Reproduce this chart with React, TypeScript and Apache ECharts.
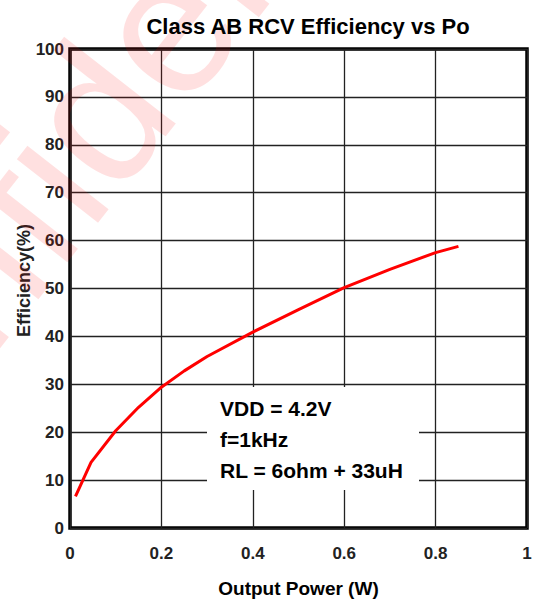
import React, { useEffect, useRef } from "react";
import * as echarts from "echarts";

const titleText = "Class AB RCV Efficiency vs Po";
const xAxisName = "Output Power (W)";
const yAxisName = "Efficiency(%)";
const watermarkText = "Confidential";

const outputPower = [0.012, 0.046, 0.1, 0.15, 0.2, 0.25, 0.3, 0.4, 0.5, 0.6, 0.7, 0.8, 0.85];
const efficiency = [6.6, 13.7, 20.3, 25.2, 29.4, 32.8, 35.8, 40.9, 45.6, 50.2, 54.0, 57.5, 58.8];

const xTickLabels = ["0", "0.2", "0.4", "0.6", "0.8", "1"];
const noteLines = ["VDD = 4.2V", "f=1kHz", "RL = 6ohm + 33uH"];

const FONT = "'Liberation Sans', Arial, Helvetica, sans-serif";

export default function App() {
  const ref = useRef<HTMLDivElement>(null);

  useEffect(() => {
    if (!ref.current) return;
    const chart = echarts.init(ref.current, undefined, { renderer: "svg" });
    const data = outputPower.map((x, i) => [x, efficiency[i]]);

    chart.setOption({
      animation: false,
      backgroundColor: "#ffffff",
      title: {
        text: titleText,
        left: 303,
        top: 10,
        textAlign: "center",
        textStyle: { fontFamily: FONT, fontWeight: "bold", fontSize: 22, color: "#000" },
      },
      grid: {
        left: 70,
        top: 49,
        right: 10,
        bottom: 73,
        show: true,
        borderColor: "#000",
        borderWidth: 3.5,
        backgroundColor: "transparent",
      },
      xAxis: {
        type: "value",
        min: 0,
        max: 1,
        interval: 0.2,
        name: xAxisName,
        nameLocation: "middle",
        nameGap: 51,
        nameTextStyle: { fontFamily: FONT, fontWeight: "bold", fontSize: 19, color: "#000" },
        axisLine: { show: false },
        axisTick: { show: false },
        splitLine: { show: true, lineStyle: { color: "#222", width: 1.3 } },
        axisLabel: {
          margin: 17,
          fontFamily: FONT,
          fontWeight: "bold",
          fontSize: 17,
          color: "#222",
          formatter: (v: number) => xTickLabels[Math.round(v / 0.2)] ?? String(v),
        },
      },
      yAxis: {
        type: "value",
        min: 0,
        max: 100,
        interval: 10,
        name: yAxisName,
        nameLocation: "middle",
        nameGap: 37,
        nameRotate: 90,
        nameMoveOverlap: false,
        nameTextStyle: {
          fontFamily: FONT,
          fontWeight: "bold",
          fontSize: 18,
          color: "#222",
          padding: [0, 0, 0, 16],
        },
        axisLine: { show: false },
        axisTick: { show: false },
        splitLine: { show: true, lineStyle: { color: "#222", width: 1.3 } },
        axisLabel: {
          margin: 6,
          fontFamily: FONT,
          fontWeight: "bold",
          fontSize: 17,
          color: "#222",
        },
      },
      graphic: [
        {
          type: "text",
          x: 100,
          y: 110,
          rotation: (52 * Math.PI) / 180,
          z: 1,
          silent: true,
          style: {
            text: watermarkText,
            fontFamily: FONT,
            fontSize: 195,
            fill: "rgba(255,0,0,0.12)",
            align: "center",
            verticalAlign: "middle",
          },
        },
        {
          type: "rect",
          z: 10,
          shape: { x: 207, y: 387, width: 212, height: 103 },
          style: { fill: "#fff" },
        },
        ...noteLines.map((t, i) => ({
          type: "text",
          z: 11,
          x: 220,
          y: 408 + i * 31,
          style: {
            text: t,
            fontFamily: FONT,
            fontWeight: "bold",
            fontSize: 21,
            fill: "#000",
            align: "left",
            verticalAlign: "middle",
          },
        })),
      ],
      series: [
        {
          type: "line",
          data,
          showSymbol: false,
          smooth: false,
          z: 5,
          lineStyle: { color: "#ff0000", width: 3 },
          itemStyle: { color: "#ff0000" },
        },
      ],
    });

    return () => chart.dispose();
  }, []);

  return (
    <div
      ref={ref}
      style={{ position: "fixed", left: 0, top: 0, width: 537, height: 603 }}
    />
  );
}
